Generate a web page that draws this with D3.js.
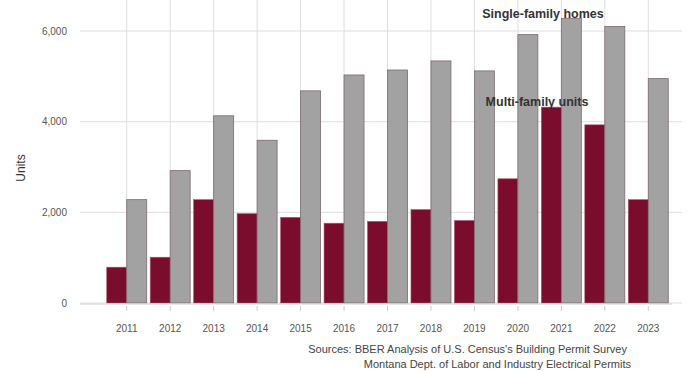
<!DOCTYPE html>
<html>
<head>
<meta charset="utf-8">
<style>
  body { margin: 0; background: #fff; font-family: "Liberation Sans", Arial, sans-serif; }
  svg { display: block; }
  .grid line { stroke: #dedede; stroke-width: 1; }
  .x .tick text, .y .tick text { fill: #555; font-size: 10px; }
  .x .tick line { stroke: #ccc; }
  .domain { display: none; }
</style>
</head>
<body>
<svg width="692" height="371"></svg>
<script src="https://d3js.org/d3.v7.min.js"></script>
<script>
// data
let years = ["2011","2012","2013","2014","2015","2016","2017","2018","2019","2020","2021","2022","2023"];
let multiFamily = [790, 1010, 2280, 1970, 1890, 1760, 1800, 2060, 1820, 2740, 4320, 3930, 2280];
let singleFamily = [2280, 2920, 4130, 3590, 4680, 5030, 5140, 5340, 5120, 5920, 6280, 6100, 4950];
let yTicks = [0, 2000, 4000, 6000];

let svg = d3.select("svg");
let margin = { top: 0, right: 22, bottom: 68, left: 80 };
let width = 692, height = 371;

let x = d3.scaleBand()
    .domain(years)
    .range([105, 670])
    .paddingInner(0.08)
    .paddingOuter(0.04);

let y = d3.scaleLinear()
    .domain([0, 6000])
    .range([303, 31]);

// gridlines
let grid = svg.append("g").attr("class", "grid");
grid.selectAll(".h")
    .data(yTicks)
    .join("line")
    .attr("x1", margin.left)
    .attr("x2", width - 10)
    .attr("y1", d => y(d))
    .attr("y2", d => y(d));
grid.selectAll(".v")
    .data(years)
    .join("line")
    .attr("x1", d => x(d) + x.bandwidth() / 2)
    .attr("x2", d => x(d) + x.bandwidth() / 2)
    .attr("y1", 0)
    .attr("y2", y(0));

// bars
let half = x.bandwidth() / 2;
svg.append("g")
    .selectAll("rect")
    .data(years)
    .join("rect")
    .attr("x", d => x(d))
    .attr("y", (d, i) => y(multiFamily[i]))
    .attr("width", half)
    .attr("height", (d, i) => y(0) - y(multiFamily[i]))
    .attr("fill", "#7a0c2e")
    .attr("stroke", "#b3536f")
    .attr("stroke-width", 0.6);

svg.append("g")
    .selectAll("rect")
    .data(years)
    .join("rect")
    .attr("x", d => x(d) + half)
    .attr("y", (d, i) => y(singleFamily[i]))
    .attr("width", half)
    .attr("height", (d, i) => y(0) - y(singleFamily[i]))
    .attr("fill", "#a2a2a2")
    .attr("stroke", "#7d6a70")
    .attr("stroke-width", 0.8);

// axes
svg.append("g")
    .attr("class", "x axis")
    .attr("transform", `translate(0,${y(0) + 3})`)
    .call(d3.axisBottom(x).tickSize(5).tickPadding(14));

svg.append("g")
    .attr("class", "y axis")
    .attr("transform", `translate(${margin.left},0)`)
    .call(d3.axisLeft(y).tickValues(yTicks).tickSize(0).tickPadding(13).tickFormat(d3.format(",")));

svg.append("line")
    .attr("x1", margin.left).attr("x2", width - 20)
    .attr("y1", y(0) + 1).attr("y2", y(0) + 1)
    .attr("stroke", "#d6d6d6");

svg.append("text")
    .attr("transform", "translate(25,168) rotate(-90)")
    .attr("text-anchor", "middle")
    .attr("font-size", 12)
    .attr("fill", "#333")
    .text("Units");

// direct labels
svg.append("text")
    .attr("x", 543).attr("y", 18)
    .attr("text-anchor", "middle")
    .attr("font-size", 12.5)
    .attr("font-weight", "bold")
    .attr("fill", "#333")
    .text("Single-family homes");

svg.append("text")
    .attr("x", 537).attr("y", 106)
    .attr("text-anchor", "middle")
    .attr("font-size", 12.5)
    .attr("font-weight", "bold")
    .attr("fill", "#333")
    .text("Multi-family units");

// sources
svg.append("text")
    .attr("x", 627).attr("y", 353)
    .attr("text-anchor", "end")
    .attr("font-size", 11)
    .attr("fill", "#444")
    .text("Sources: BBER Analysis of U.S. Census's Building Permit Survey");
svg.append("text")
    .attr("x", 631).attr("y", 368)
    .attr("text-anchor", "end")
    .attr("font-size", 11)
    .attr("fill", "#444")
    .text("Montana Dept. of Labor and Industry Electrical Permits");
</script>
</body>
</html>
